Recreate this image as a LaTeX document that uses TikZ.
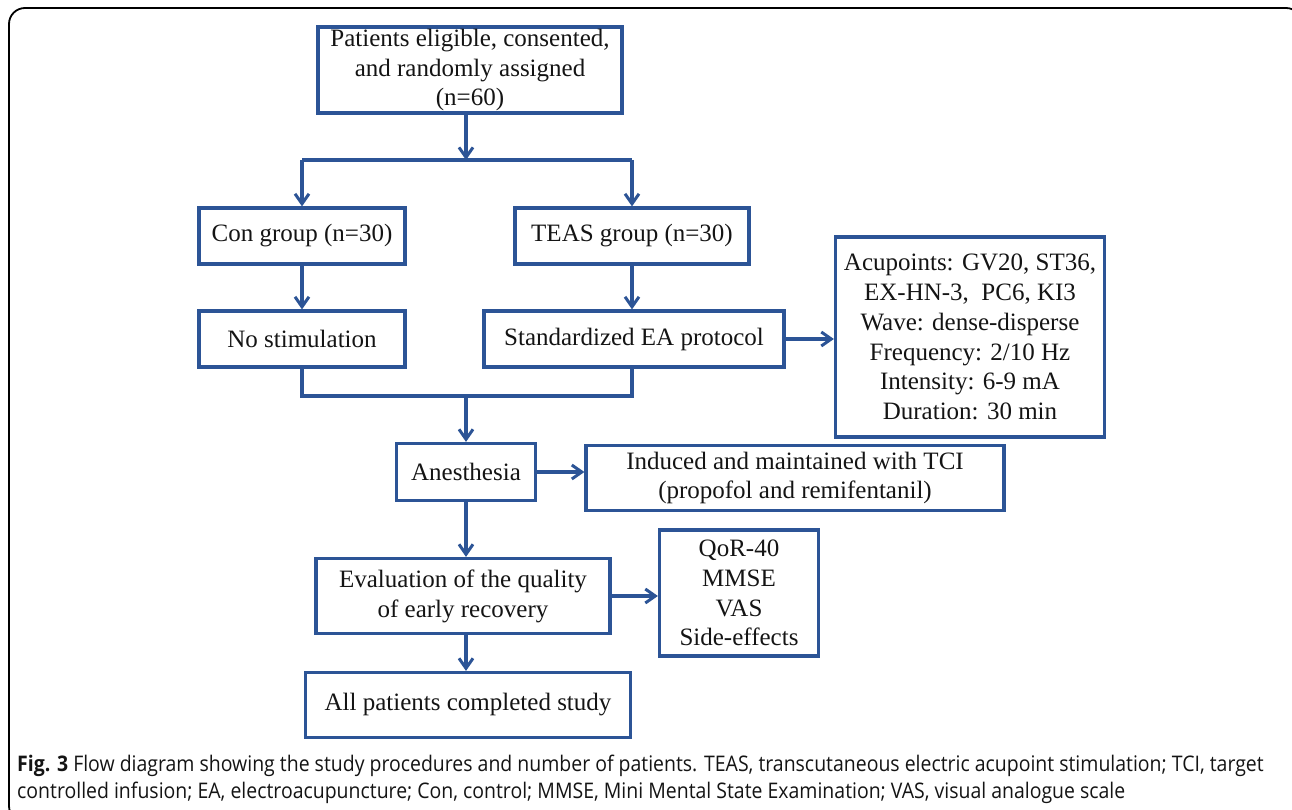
\documentclass[tikz,border=0pt]{standalone}
\usepackage{fontspec}
\setmainfont{Liberation Serif}
\newfontfamily\capfont[FakeStretch=0.905]{Open Sans}
\usetikzlibrary{arrows.meta}
\definecolor{boxblue}{RGB}{44,84,150}
\definecolor{txt}{RGB}{20,20,20}
\begin{document}
\begin{tikzpicture}[x=1pt,y=-1pt,
 box/.style={draw=boxblue, line width=3.2pt, align=center, inner sep=0pt, text=txt,
   font=\fontsize{25}{29.8}\selectfont},
 arr/.style={draw=boxblue, line width=3.2pt, -{Straight Barb[length=10pt,width=14pt,line width=3pt]}},
 ln/.style={draw=boxblue, line width=3.2pt},
]
\useasboundingbox (0,0) rectangle (1292,810);
\begin{scope}
\clip (0,0) rectangle (1292,810);
\draw[line width=1.8pt, rounded corners=16pt] (9,8) rectangle (1302,822);
\end{scope}

\node[box, minimum width=304pt, minimum height=86pt] (top) at (470,70)
  {Patients eligible, consented,\\and randomly assigned\\(n=60)};
\node[box, minimum width=206pt, minimum height=56pt] (con) at (302,236) {Con group (n=30)};
\node[box, minimum width=234pt, minimum height=56pt] (teas) at (632,236) {TEAS group (n=30)};
\node[box, minimum width=206pt, minimum height=56pt] (nostim) at (302,339) {No stimulation};
\node[box, minimum width=300pt, minimum height=56pt] (sea) at (634,339) {Standardized EA protocol};
\node[box, minimum width=269pt, minimum height=200pt] (prot) at (970,337)
  {Acupoints: GV20, ST36,\\EX-HN-3,\ \ PC6, KI3\\Wave: dense-disperse\\Frequency: 2/10 Hz\\Intensity: 6-9 mA\\Duration: 30 min};
\node[box, minimum width=139pt, minimum height=57pt] (anes) at (466,472) {Anesthesia};
\node[box, minimum width=418pt, minimum height=65pt] (tci) at (795,478)
  {Induced and maintained with TCI\\(propofol and remifentanil)};
\node[box, minimum width=294pt, minimum height=75pt] (eval) at (463,596)
  {Evaluation of the quality\\of early recovery};
\node[box, minimum width=159pt, minimum height=126pt] (qor) at (739,593)
  {QoR-40\\MMSE\\VAS\\Side-effects};
\node[box, minimum width=325pt, minimum height=65pt] (all) at (468,705) {All patients completed study};

\coordinate (s1) at (466,160);
\coordinate (s2) at (466,396);

\draw[arr] (top.south -| s1) -- (s1);
\draw[ln] (con.north |- s1) -- (teas.north |- s1);
\draw[arr] (con.north |- s1) -- (con.north);
\draw[arr] (teas.north |- s1) -- (teas.north);
\draw[arr] (con.south) -- (nostim.north);
\draw[arr] (teas.south) -- (teas.south |- sea.north);
\draw[ln] (nostim.south) -- (nostim.south |- s2) -- (teas.south |- s2) -- (teas.south |- sea.south);
\draw[arr] (s2) -- (s2 |- anes.north);
\draw[arr] (sea.east) -- (sea.east -| prot.west);
\draw[arr] (anes.east) -- (anes.east -| tci.west);
\draw[arr] (anes.south) -- (anes.south |- eval.north);
\draw[arr] (eval.east) -- (eval.east -| qor.west);
\draw[arr] (eval.south -| s1) -- (s1 |- all.north);

\node[anchor=base west, inner sep=0pt, align=left, text=txt,
  font=\capfont\fontsize{21.5}{27}\selectfont] (cap) at (17,798)
  {\textbf{Fig. 3} Flow diagram showing the study procedures and number of patients. TEAS, transcutaneous electric acupoint stimulation; TCI, target\\
   controlled infusion; EA, electroacupuncture; Con, control; MMSE, Mini Mental State Examination; VAS, visual analogue scale};
\end{tikzpicture}
\end{document}
